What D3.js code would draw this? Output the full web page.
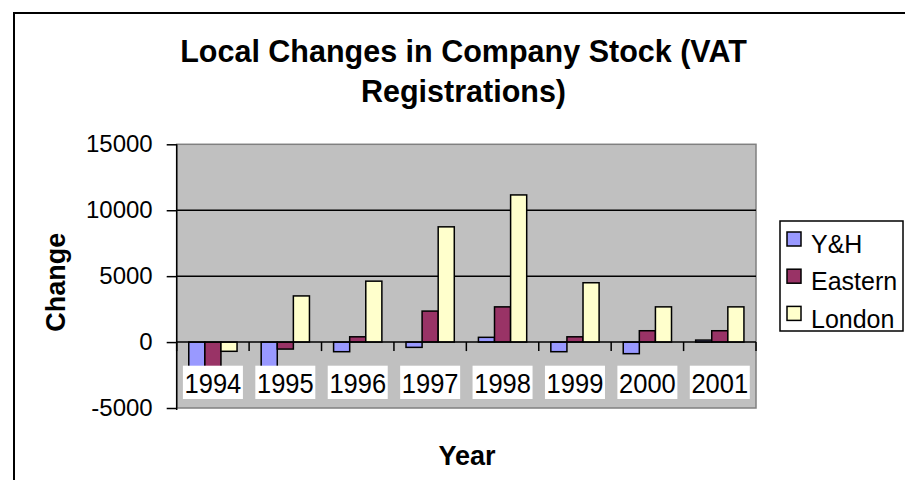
<!DOCTYPE html>
<html>
<head>
<meta charset="utf-8">
<script src="https://cdn.jsdelivr.net/npm/d3@7"></script>
<style>
  body { margin: 0; background: #fff; }
  svg { display: block; font-family: Arial, "Liberation Sans", sans-serif; }
</style>
</head>
<body>
<div id="chart"></div>
<script>
// data
var years = ['1994', '1995', '1996', '1997', '1998', '1999', '2000', '2001'];
var seriesNames = ['Y&H', 'Eastern', 'London'];
var yhValues = [-2000, -2000, -730, -400, 360, -730, -880, 150];
var easternValues = [-2000, -530, 400, 2350, 2670, 400, 860, 860];
var londonValues = [-700, 3500, 4620, 8740, 11160, 4500, 2670, 2670];
var seriesColors = ['#9999FF', '#993366', '#FFFFCC'];
var yTicks = [-5000, 0, 5000, 10000, 15000];

var seriesValues = [yhValues, easternValues, londonValues];
var rows = years.map(function(y, i) {
  return {year: y, values: seriesNames.map(function(s, j) { return {name: s, value: seriesValues[j][i]}; })};
});

var width = 905, height = 480;
var plot = {left: 176.7, right: 756, top: 144.3, bottom: 408};

var svg = d3.select('#chart').append('svg')
  .attr('width', width)
  .attr('height', height);

// outer chart border
svg.append('rect')
  .attr('x', 14).attr('y', 13)
  .attr('width', 920).attr('height', 500)
  .attr('fill', '#fff')
  .attr('stroke', '#000')
  .attr('stroke-width', 2);

var x0 = d3.scaleBand()
  .domain(years)
  .range([plot.left, plot.right])
  .padding(0);

var x1 = d3.scaleBand()
  .domain(seriesNames)
  .range([0, x0.bandwidth()])
  .paddingInner(0)
  .paddingOuter(0.75);

var y = d3.scaleLinear()
  .domain([-5000, 15000])
  .range([plot.bottom, plot.top]);

// plot area
svg.append('rect')
  .attr('x', plot.left).attr('y', plot.top)
  .attr('width', plot.right - plot.left)
  .attr('height', plot.bottom - plot.top)
  .attr('fill', '#C0C0C0')
  .attr('stroke', '#808080')
  .attr('stroke-width', 1.5);

// gridlines
svg.append('g')
  .selectAll('line')
  .data(yTicks.filter(function(d) { return d > 0 && d < 15000; }))
  .enter().append('line')
    .attr('x1', plot.left).attr('x2', plot.right)
    .attr('y1', function(d) { return y(d); })
    .attr('y2', function(d) { return y(d); })
    .attr('stroke', '#000')
    .attr('stroke-width', 1.5);

// bars
svg.append('g')
  .selectAll('g')
  .data(rows)
  .enter().append('g')
    .attr('transform', function(d) { return 'translate(' + x0(d.year) + ',0)'; })
  .selectAll('rect')
  .data(function(d) { return d.values; })
  .enter().append('rect')
    .attr('x', function(d) { return x1(d.name); })
    .attr('width', x1.bandwidth())
    .attr('y', function(d) { return y(Math.max(0, d.value)); })
    .attr('height', function(d) { return Math.abs(y(d.value) - y(0)); })
    .attr('fill', function(d, i) { return seriesColors[i]; })
    .attr('stroke', '#000')
    .attr('stroke-width', 1.5);

// y axis
var yAxis = d3.axisLeft(y)
  .tickValues(yTicks)
  .tickSize(10)
  .tickPadding(14)
  .tickFormat(function(d) { return String(d); });

var yg = svg.append('g')
  .attr('transform', 'translate(' + plot.left + ',0)')
  .call(yAxis);
yg.select('.domain').attr('stroke', '#000').attr('stroke-width', 1.5)
  .attr('d', 'M0,' + (plot.top) + 'V' + (plot.bottom + 2));
yg.selectAll('.tick line').attr('stroke-width', 1.5);
yg.selectAll('.tick text')
  .attr('font-size', 24)
  .attr('font-family', 'Arial, "Liberation Sans", sans-serif')
  .attr('fill', '#000');

// category axis at zero
var zeroY = y(0);
svg.append('line')
  .attr('x1', plot.left).attr('x2', plot.right)
  .attr('y1', zeroY).attr('y2', zeroY)
  .attr('stroke', '#000')
  .attr('stroke-width', 1.5);

var boundaries = years.map(function(d) { return x0(d); }).concat([plot.right]);
svg.append('g')
  .selectAll('line')
  .data(boundaries)
  .enter().append('line')
    .attr('x1', function(d) { return d; })
    .attr('x2', function(d) { return d; })
    .attr('y1', zeroY)
    .attr('y2', zeroY + 9)
    .attr('stroke', '#000')
    .attr('stroke-width', 1.5);

// category labels with white boxes
var labels = svg.append('g')
  .selectAll('g')
  .data(years)
  .enter().append('g')
    .attr('transform', function(d) { return 'translate(' + (x0(d) + x0.bandwidth() / 2) + ',0)'; });
labels.append('rect')
  .attr('x', -30).attr('y', 365.7)
  .attr('width', 60).attr('height', 33.3)
  .attr('fill', '#fff');
labels.append('text')
  .attr('text-anchor', 'middle')
  .attr('transform', 'translate(0,392.7) scale(1,1.06)')
  .attr('font-size', 25.5)
  .text(function(d) { return d; });

// titles
var title = svg.append('text')
  .attr('text-anchor', 'middle')
  .attr('font-size', 30.5)
  .attr('font-weight', 'bold');
title.append('tspan').attr('x', 463.5).attr('y', 61.7).text('Local Changes in Company Stock (VAT');
title.append('tspan').attr('x', 463.5).attr('y', 101.5).text('Registrations)');

svg.append('text')
  .attr('text-anchor', 'middle')
  .attr('x', 467).attr('y', 465)
  .attr('font-size', 27)
  .attr('font-weight', 'bold')
  .text('Year');

svg.append('text')
  .attr('text-anchor', 'middle')
  .attr('transform', 'translate(65,282.3) rotate(-90)')
  .attr('font-size', 27)
  .attr('font-weight', 'bold')
  .text('Change');

// legend
var legend = svg.append('g');
legend.append('rect')
  .attr('x', 780).attr('y', 221)
  .attr('width', 123).attr('height', 110)
  .attr('fill', '#fff')
  .attr('stroke', '#000')
  .attr('stroke-width', 1.5);

var items = legend.selectAll('g.item')
  .data(seriesNames)
  .enter().append('g')
    .attr('class', 'item')
    .attr('transform', function(d, i) { return 'translate(0,' + (i * 37.2) + ')'; });
items.append('rect')
  .attr('x', 787).attr('y', 232)
  .attr('width', 14).attr('height', 14)
  .attr('fill', function(d, i) { return seriesColors[i]; })
  .attr('stroke', '#000')
  .attr('stroke-width', 1.5);
items.append('text')
  .attr('x', 811).attr('y', 253.3)
  .attr('font-size', 25)
  .text(function(d) { return d; });
</script>
</body>
</html>
